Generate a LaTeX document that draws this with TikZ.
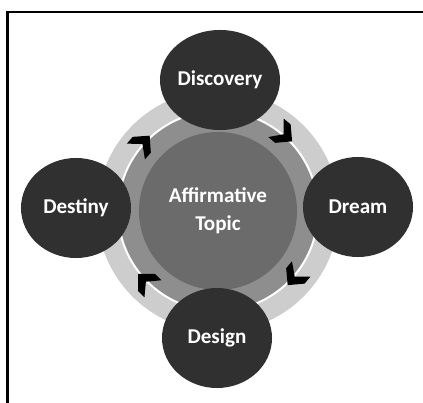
\documentclass[tikz,border=0pt]{standalone}
\usepackage{fontspec}
\setmainfont{Carlito}
\usetikzlibrary{shapes.geometric}

\definecolor{stagegray}{HTML}{303030}
\definecolor{topicgray}{HTML}{6B6B6B}
\definecolor{ringmid}{HTML}{8E8E8E}
\definecolor{ringlight}{HTML}{CDCDCD}

\begin{document}
\begin{tikzpicture}[x=0.025cm,y=0.025cm,
  stagenode/.style={ellipse,fill=stagegray,text=white,minimum width=2.75cm,minimum height=2.5cm,inner sep=0pt,font=\fontsize{15}{18}\selectfont\bfseries},
  topicnode/.style={circle,fill=topicgray,text=white,minimum size=3.95cm,inner sep=0pt,align=center,font=\fontsize{15}{20}\selectfont\bfseries},
  chev/.pic={\fill[black] (12,0) -- (0,12) -- (-9,12) -- (1,0) -- (-9,-12) -- (0,-12) -- cycle;}]
  \useasboundingbox (0,0) rectangle (423,403);
  % frame
  \draw[line width=0.05cm] (7.5,0) -- (7.5,391) -- (423,391);
  % rings
  \coordinate (o) at (218,192);
  \fill[ringlight] (o) circle (121);
  \fill[ringmid] (o) circle (100);
  \draw[white,line width=0.05cm] (o) circle (100);
  \node[topicnode] (topic) at (o) {Affirmative\\Topic};
  % cycle arrows
  \pic[rotate=49] at ([shift={(139:101)}]o) {chev};
  \pic[rotate=-40] at ([shift={(50:101)}]o) {chev};
  \pic[rotate=-130] at ([shift={(-40:101)}]o) {chev};
  \pic[rotate=135] at ([shift={(-135:101)}]o) {chev};
  % stages
  \node[stagenode] (disc) at (220,323) {Discovery};
  \node[stagenode] (dream) at (358,196) {Dream};
  \node[stagenode] (dsgn) at (217,65) {Design};
  \node[stagenode] (dest) at (76,195) {Destiny};
\end{tikzpicture}
\end{document}
